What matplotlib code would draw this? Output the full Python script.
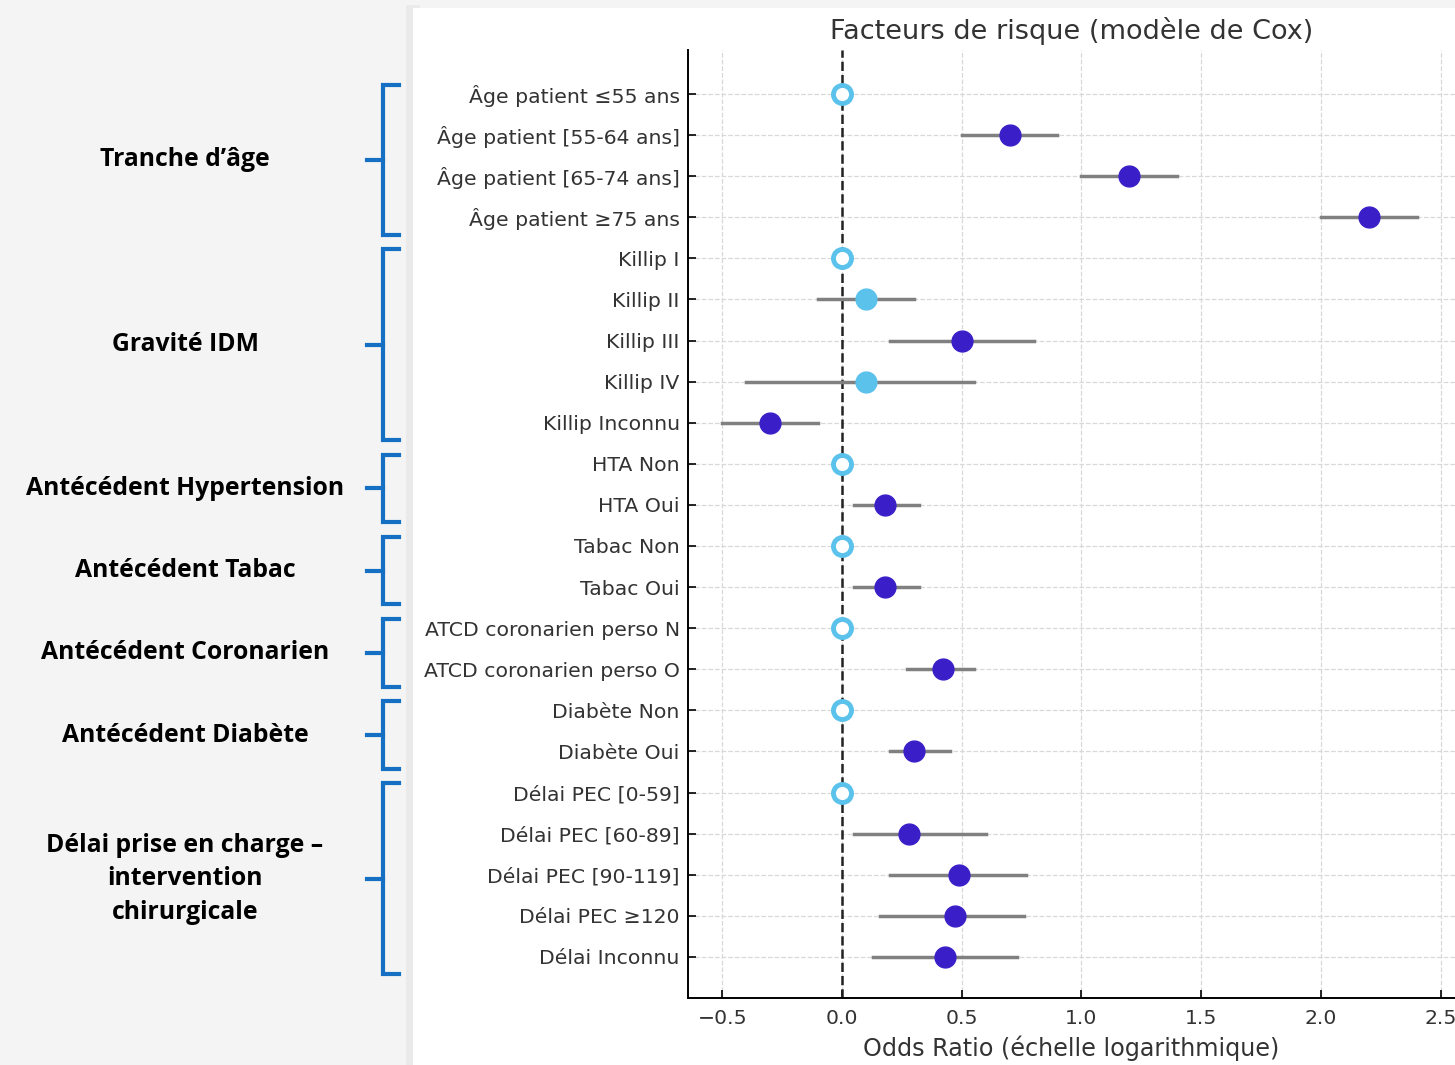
import matplotlib.pyplot as plt
from matplotlib.patches import Rectangle
import matplotlib.transforms as mtransforms

# ----- données -----
labels = ["Âge patient ≤55 ans", "Âge patient [55-64 ans]", "Âge patient [65-74 ans]",
          "Âge patient ≥75 ans", "Killip I", "Killip II", "Killip III", "Killip IV",
          "Killip Inconnu", "HTA Non", "HTA Oui", "Tabac Non", "Tabac Oui",
          "ATCD coronarien perso N", "ATCD coronarien perso O", "Diabète Non",
          "Diabète Oui", "Délai PEC [0-59]", "Délai PEC [60-89]", "Délai PEC [90-119]",
          "Délai PEC ≥120", "Délai Inconnu"]
estimate = [0, 0.70, 1.20, 2.20, 0, 0.10, 0.50, 0.10, -0.30, 0, 0.18, 0, 0.18,
            0, 0.42, 0, 0.30, 0, 0.28, 0.49, 0.47, 0.43]
ci_low = [0, 0.50, 1.00, 2.00, 0, -0.10, 0.20, -0.40, -0.50, 0, 0.05, 0, 0.05,
          0, 0.27, 0, 0.20, 0, 0.05, 0.20, 0.16, 0.13]
ci_high = [0, 0.90, 1.40, 2.40, 0, 0.30, 0.80, 0.55, -0.10, 0, 0.32, 0, 0.32,
           0, 0.55, 0, 0.45, 0, 0.60, 0.77, 0.76, 0.73]
# statut : ref = référence, ns = non significatif, sig = significatif
status = ["ref", "sig", "sig", "sig", "ref", "ns", "sig", "ns", "sig", "ref", "sig",
          "ref", "sig", "ref", "sig", "ref", "sig", "ref", "sig", "sig", "sig", "sig"]

# groupes : (libellé, première ligne, dernière ligne)
groups = [("Tranche d’âge", 0, 3), ("Gravité IDM", 4, 8),
          ("Antécédent Hypertension", 9, 10), ("Antécédent Tabac", 11, 12),
          ("Antécédent Coronarien", 13, 14), ("Antécédent Diabète", 15, 16),
          ("Délai prise en charge –\nintervention\nchirurgicale", 17, 21)]

# ----- figure -----
W, H = 1455, 1065
fig = plt.figure(figsize=(W / 100, H / 100), dpi=100)
fig.patch.set_facecolor("#f4f4f4")

# panneau blanc du graphique
fig.patches.append(Rectangle((406 / W, 0), 14 / W, 1 - 5 / H, transform=fig.transFigure,
                             facecolor="#eaeaea", edgecolor="none", zorder=0))
fig.patches.append(Rectangle((413 / W, 0), 1, 1 - 8 / H, transform=fig.transFigure,
                             facecolor="white", edgecolor="none", zorder=0))

ax = fig.add_axes([688 / W, 1 - 998 / H, 1 - 688 / W, (998 - 50) / H])
ax.set_zorder(2)
ax.set_facecolor("none")

dark = "#3a1fc8"
light = "#5bc2ec"
rows = list(range(len(labels)))

for i in rows:
    if status[i] != "ref":
        ax.plot([ci_low[i], ci_high[i]], [i, i], color="#808080", lw=2.5, zorder=3)

for i in rows:
    if status[i] == "ref":
        ax.plot(estimate[i], i, "o", ms=13, mfc="white", mec=light, mew=3.5, zorder=4)
    else:
        c = dark if status[i] == "sig" else light
        ax.plot(estimate[i], i, "o", ms=15, mfc=c, mec=c, zorder=4)

ax.axvline(0, color="#222222", ls="--", lw=1.8, zorder=2)

ax.set_yticks(rows)
ax.set_yticklabels(labels)
ax.set_ylim(22.0, -1.07)
ax.set_xlim(-0.643, 2.56)
ax.set_xticks([-0.5, 0, 0.5, 1.0, 1.5, 2.0, 2.5])
ax.grid(True, ls="--", color="#d8d8d8", lw=0.9)
ax.set_axisbelow(True)
for s in ["top", "right"]:
    ax.spines[s].set_visible(False)
ax.spines["left"].set_linewidth(1.4)
ax.spines["bottom"].set_linewidth(1.4)
ax.tick_params(axis="both", direction="in", labelsize=14.7, labelcolor="#333333",
               length=6, width=1.2, pad=6)
ax.tick_params(axis="x", pad=8)
ax.set_xlabel("Odds Ratio (échelle logarithmique)", fontsize=17.2, color="#333333", labelpad=5)
ax.set_title("Facteurs de risque (modèle de Cox)", fontsize=19.5, color="#333333", pad=8)

# ----- accolades des groupes -----
trans = mtransforms.blended_transform_factory(fig.transFigure, ax.transData)
blue = "#1570c4"
xb, xr, xl = 383 / W, 399 / W, 367 / W
for name, first, last in groups:
    top, bot = first - 0.22, last + 0.42
    mid = (top + bot) / 2
    ax.plot([xr, xb, xb, xr], [top, top, bot, bot], color=blue, lw=3,
            transform=trans, clip_on=False, solid_joinstyle="miter")
    ax.plot([xl, xb], [mid, mid], color=blue, lw=3, transform=trans, clip_on=False)
    ax.text(185 / W, mid, name, transform=trans, ha="center", va="center",
            fontsize=17.8, fontweight="bold", family="Open Sans", color="black",
            linespacing=1.45)

fig.savefig("out.png", dpi=100, facecolor=fig.get_facecolor())
